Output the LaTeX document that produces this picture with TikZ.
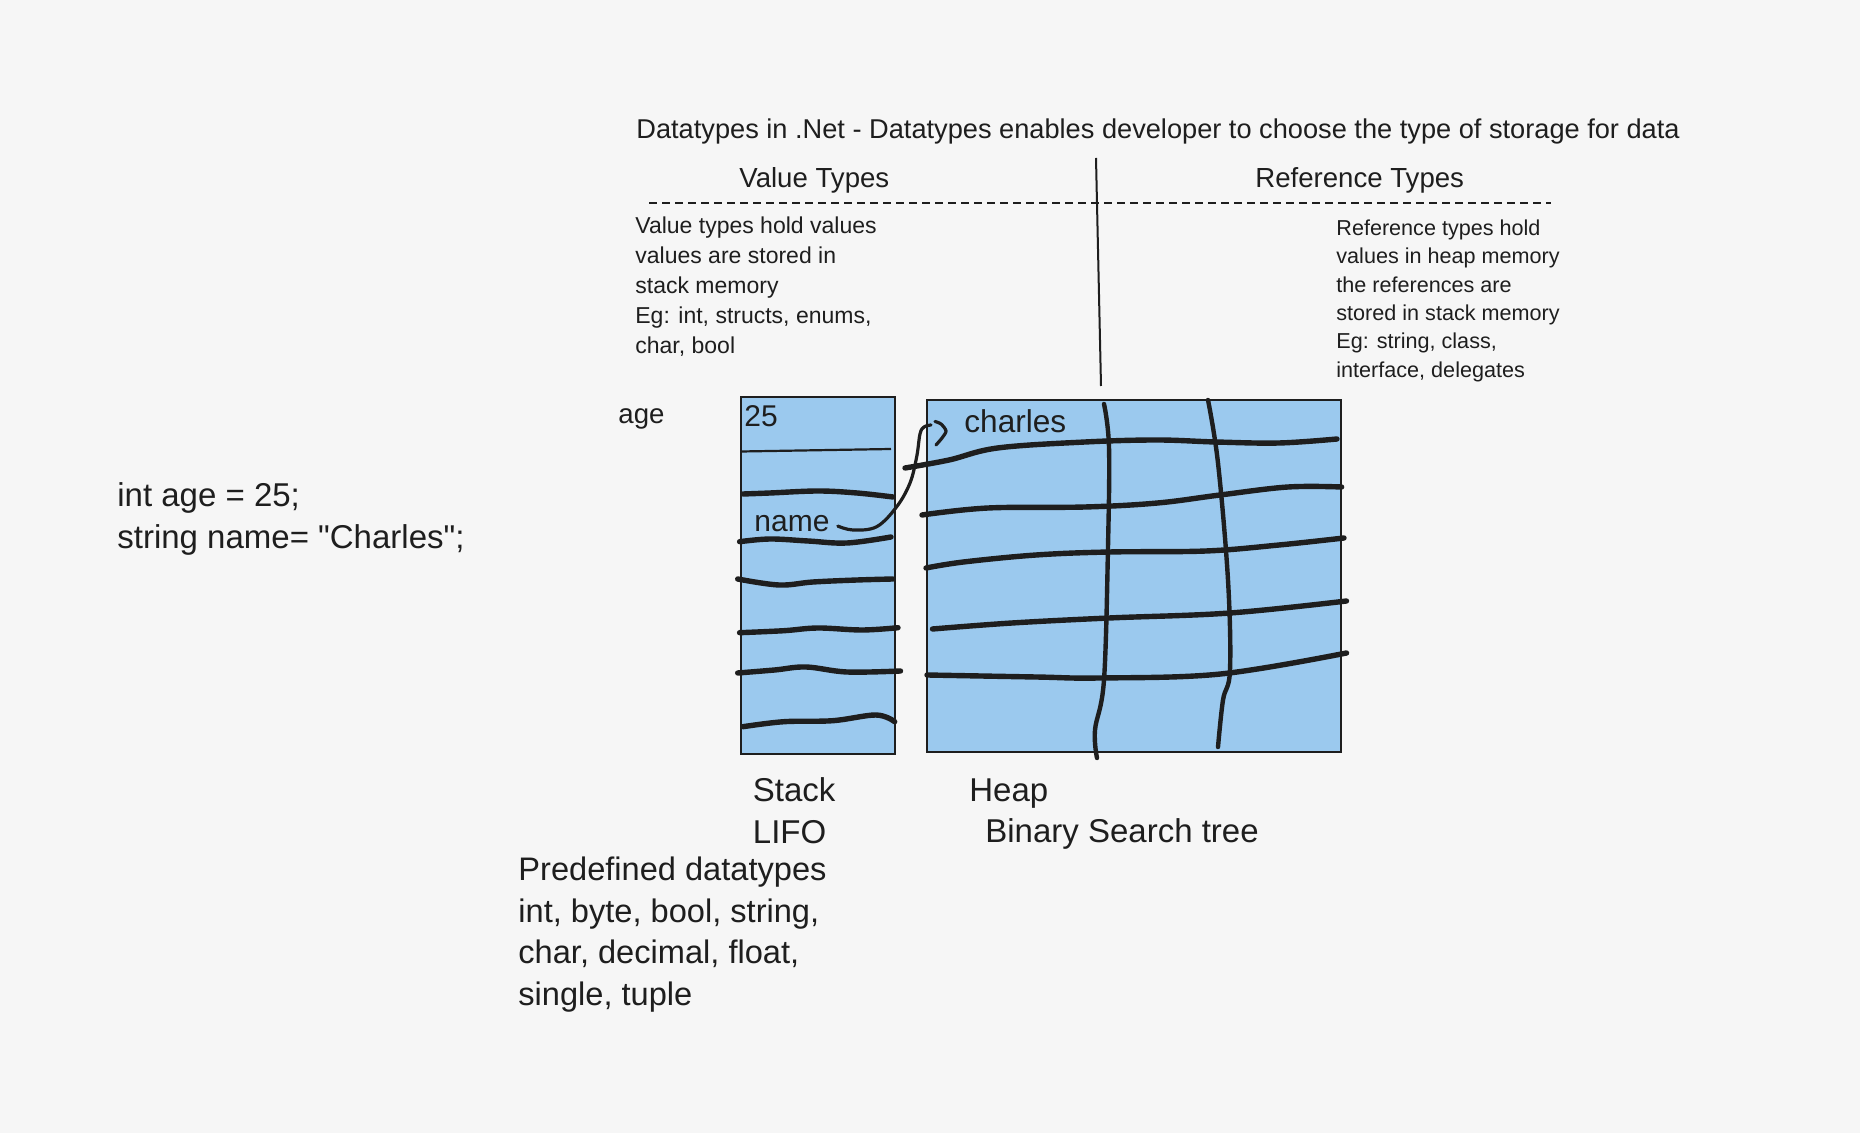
\documentclass[tikz,border=0pt]{standalone}
\usepackage{fontspec}
\setmainfont{Liberation Sans}
\definecolor{bg}{HTML}{F6F6F6}
\definecolor{ink}{HTML}{1E1E1E}
\definecolor{cell}{HTML}{9BC9EE}
\begin{document}
\begin{tikzpicture}[x=0.5pt,y=-0.5pt,
  box/.style={draw=ink, line width=1pt, fill=cell, inner sep=0, anchor=north west},
  wave/.style={draw=ink, line width=2.7pt, line cap=round, line join=round},
  vwave/.style={draw=ink, line width=2.2pt, line cap=round, line join=round},
  lbl/.style={inner sep=0, text=ink, anchor=base west},
  blk/.style={inner sep=0, text=ink, anchor=north west, align=left}]
\fill[bg] (0,0) rectangle (1860,1133);
\useasboundingbox (0,0) rectangle (1860,1133);

% title and headings
\node[lbl, font=\fontsize{13.6pt}{15pt}\selectfont] (title) at (636,139)
  {Datatypes in .Net - Datatypes enables developer to choose the type of storage for data};
\node[lbl, font=\fontsize{13.8pt}{16pt}\selectfont] (vt) at (739,188) {Value Types};
\node[lbl, font=\fontsize{13.8pt}{16pt}\selectfont] (rt) at (1255,188) {Reference Types};

\coordinate (dashL) at (649,203);
\coordinate (dashR) at (1551,203);
\draw[ink, line width=1pt, dash pattern=on 4pt off 2.5pt] (dashL) -- (dashR);
\coordinate (divT) at (1096,158);
\coordinate (divB) at (1101,386);
\draw[ink, line width=1pt] (divT) -- (divB);

% descriptions
\node[blk, font=\fontsize{11.5pt}{15pt}\selectfont] (vdesc) at (635,216.5)
  {Value types hold values\\values are stored in\\stack memory\\Eg: int, structs, enums,\\char, bool};
\node[blk, font=\fontsize{10.8pt}{14.15pt}\selectfont] (rdesc) at (1336,219.5)
  {Reference types hold\\values in heap memory\\the references are\\stored in stack memory\\Eg: string, class,\\interface, delegates};

% code
\node[blk, font=\fontsize{16.5pt}{21pt}\selectfont] (code) at (117,482.5)
  {int age = 25;\\string name= \textquotedbl Charles\textquotedbl;};

% stack
\node[box, minimum width=77pt, minimum height=178.5pt] (stack) at (740,396) {};
\node[lbl, font=\fontsize{13.8pt}{16pt}\selectfont] (age) at (618,424) {age};
\node[lbl, font=\fontsize{15pt}{18pt}\selectfont] (v25) at (744,427) {25};
\coordinate (sepL) at (741,451.5);
\coordinate (sepR) at (891,449);
\draw[ink, line width=1.1pt] (sepL) -- (sepR);
\draw[wave] plot[smooth, tension=0.6] coordinates {(743,494) (770,493) (818,491) (857,493) (893,497)};
\draw[wave] plot[smooth, tension=0.6] coordinates {(739.6,541.7) (770,539) (808,541) (847,543) (891,537)};
\draw[wave] plot[smooth, tension=0.6] coordinates {(737.7,579) (779,585) (813,582) (857,580) (893,579)};
\draw[wave] plot[smooth, tension=0.6] coordinates {(739.6,632.7) (784,630.7) (818,628) (862,630) (898,627.7)};
\draw[wave] plot[smooth, tension=0.6] coordinates {(737.7,673) (774.5,670) (806,667) (847,672) (900.5,671)};
\draw[wave] plot[smooth, tension=0.6] coordinates {(743,726.7) (784,721.7) (832.7,720.7) (876,715) (894.7,721.7)};
\node[lbl, font=\fontsize{15pt}{18pt}\selectfont] (name) at (754,532) {name};

% heap
\node[box, minimum width=207pt, minimum height=176pt] (heap) at (926,399) {};
\draw[wave] plot[smooth, tension=0.6] coordinates {(905,468) (949,460) (997.5,448) (1085,442) (1157,440) (1216,442) (1279,443) (1337,439)};
\draw[wave] plot[smooth, tension=0.6] coordinates {(922,515) (988,508) (1085,507) (1157.5,503) (1220,495) (1288,487) (1341.6,487)};
\draw[wave] plot[smooth, tension=0.6] coordinates {(926,568) (963.5,562) (1036,555) (1109,552) (1206,551) (1279,545) (1344,538)};
\draw[wave] plot[smooth, tension=0.6] coordinates {(932.5,629) (1012,623) (1109,618) (1230,613) (1346.5,601)};
\draw[wave] plot[smooth, tension=0.6] coordinates {(927,675) (1036,677) (1099,678) (1220.5,674) (1346.5,653)};
\draw[vwave] plot[smooth, tension=0.6] coordinates {(1104,404) (1109,447) (1108,547) (1104,680) (1095,730) (1097,758)};
\draw[vwave] plot[smooth, tension=0.6] coordinates {(1208,400) (1218,463) (1228,580) (1230,670) (1223,700) (1218,747)};
\node[lbl, font=\fontsize{15.8pt}{18pt}\selectfont] (charles) at (964,433) {charles};

% reference arrow from name to charles
\coordinate (shaftEnd) at (931,425);
\coordinate (tip) at (946,431);
\coordinate (barbA) at (935,421.5);
\coordinate (barbB) at (936,445);
\draw[ink, line width=1.6pt, line cap=round, line join=round]
  plot[smooth, tension=0.6] coordinates {([xshift=4pt,yshift=-1pt]name.east) (853,530) (876.7,526.7) (896.7,506.7) (910,483) (916.7,456.7) (920,434) (924,427) (shaftEnd)};
\draw[ink, line width=1.6pt, line cap=round, line join=round]
  plot[smooth, tension=0.5] coordinates {(barbA) (941,424) (tip) (942,438) (barbB)};

% bottom labels
\node[blk, font=\fontsize{16.5pt}{21pt}\selectfont] (stacklbl) at (752.5,777.5) {Stack\\LIFO};
\node[lbl, font=\fontsize{16.5pt}{20pt}\selectfont] (heaplbl) at (969,802) {Heap};
\node[lbl, font=\fontsize{16.5pt}{20pt}\selectfont] (bst) at (985,843) {Binary Search tree};
\node[blk, font=\fontsize{16.3pt}{20.85pt}\selectfont] (predef) at (518,856.5)
  {Predefined datatypes\\int, byte, bool, string,\\char, decimal, float,\\single, tuple};
\end{tikzpicture}
\end{document}
